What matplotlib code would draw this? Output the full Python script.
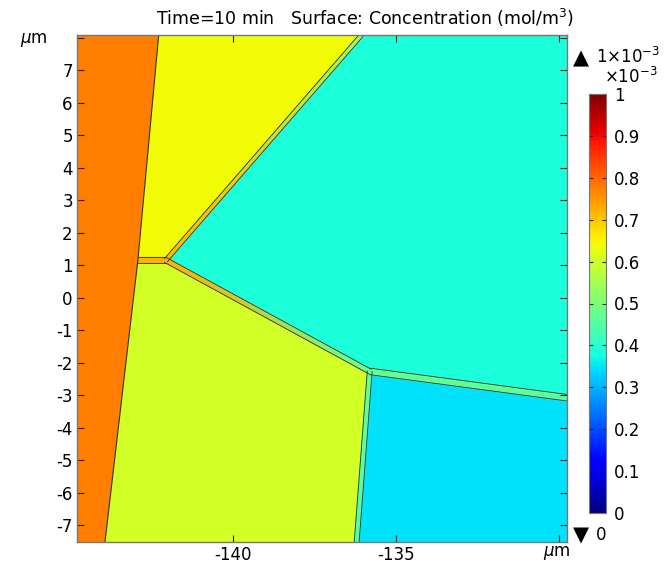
import numpy as np
import matplotlib
matplotlib.use("Agg")
import matplotlib.pyplot as plt
from matplotlib.colors import Normalize
from matplotlib.cm import ScalarMappable

plt.rcParams['font.family'] = 'DejaVu Sans'
plt.rcParams['mathtext.default'] = 'regular'

# domain (um)
xmin, xmax = -144.8, -129.75
ymin, ymax = -7.52, 8.08

# key points of the grain structure (um)
A = (-142.29, ymax)      # left boundary, top
M = (-142.93, 1.15)      # left boundary at junction
D = (-143.94, ymin)      # left boundary, bottom
J = (-142.07, 1.15)      # triple junction
T = (-136.06, ymax)      # upper boundary meets top edge
K = (-135.81, -2.27)     # lower triple junction
R = (xmax, -3.08)        # boundary meets right edge
B = (-136.21, ymin)      # boundary meets bottom edge

# grain concentrations (x1e-3 mol/m^3)
grain_names = ['left', 'top', 'lower_left', 'right', 'lower_right']
grain_vals = [0.775, 0.642, 0.605, 0.385, 0.345]
grain_polys = [
    [(xmin, ymax), A, M, D, (xmin, ymin)],
    [A, T, J, M],
    [M, J, K, B, D],
    [T, (xmax, ymax), R, K, J],
    [K, R, (xmax, ymin), B],
]

# grain boundary bands: start, end, width (um), value at start, value at end
band_start = [M, J, J, K, K]
band_end = [J, T, K, R, B]
band_width = [0.18, 0.13, 0.16, 0.2, 0.15]
band_v0 = [0.72, 0.71, 0.72, 0.47, 0.47]
band_v1 = [0.72, 0.54, 0.48, 0.46, 0.45]

xticks = [-140, -135, -130]
xlabels = ['-140', '-135', '']
yticks = list(range(-7, 9))
ylabels = [str(t) for t in range(-7, 8)] + ['']

cmap = plt.get_cmap('jet')
norm = Normalize(0, 1)
fs = 12

fig = plt.figure(figsize=(6.71, 5.65), dpi=100)
ax = fig.add_axes([77 / 671, 1 - 542 / 565, 490 / 671, 507 / 565])

for poly, v in zip(grain_polys, grain_vals):
    xs, ys = zip(*poly)
    ax.fill(xs, ys, color=cmap(norm(v)), lw=0)

# left boundary line
ax.plot([A[0], M[0], D[0]], [A[1], M[1], D[1]], color='#303030', lw=0.8)

for p0, p1, w, v0, v1 in zip(band_start, band_end, band_width, band_v0, band_v1):
    p0 = np.array(p0); p1 = np.array(p1)
    d = (p1 - p0) / np.hypot(*(p1 - p0))
    n = np.array([-d[1], d[0]]) * w / 2
    pts = np.array([p0 + n, p0 - n, p1 - n, p1 + n])
    ax.tripcolor(pts[:, 0], pts[:, 1], [[0, 1, 2], [0, 2, 3]],
                 [v0, v0, v1, v1], shading='gouraud', cmap=cmap, norm=norm)
    for s in (1, -1):
        ax.plot([p0[0] + s * n[0], p1[0] + s * n[0]],
                [p0[1] + s * n[1], p1[1] + s * n[1]], color='#303030', lw=0.6)

ax.set_xlim(xmin, xmax)
ax.set_ylim(ymin, ymax)
ax.set_xticks(xticks)
ax.set_xticklabels(xlabels)
ax.set_yticks(yticks)
ax.set_yticklabels(ylabels)
ax.tick_params(direction='in', length=5, width=0.8, top=True, right=True,
               labelsize=fs, pad=3, color='#202020')
for sp in ax.spines.values():
    sp.set_color('#777777')
    sp.set_linewidth(1.0)

fig.text(48 / 671, 1 - 40 / 565, r'$\mathit{\mu}$m', fontsize=fs, ha='right', va='center')
fig.text(557 / 671, 1 - 553 / 565, r'$\mathit{\mu}$m', fontsize=fs, ha='center', va='center')
fig.text(365 / 671, 1 - 18 / 565,
         'Time=10 min   Surface: Concentration (mol/m$^3$)',
         fontsize=12.5, ha='center', va='center')

# colorbar
cax = fig.add_axes([589 / 671, 1 - 513 / 565, 17 / 671, 419 / 565])
cb = fig.colorbar(ScalarMappable(norm=norm, cmap=cmap), cax=cax)
cb.set_ticks(np.arange(0, 1.01, 0.1))
cb.set_ticklabels(['0'] + ['%.1f' % t for t in np.arange(0.1, 0.95, 0.1)] + ['1'])
cax.tick_params(direction='in', length=3, width=0.8, left=True, right=True,
                labelsize=fs, pad=6, color='#202020')
cb.outline.set_edgecolor('#777777')
cb.outline.set_linewidth(0.8)

fig.text(604 / 671, 1 - 77 / 565, r'$\times10^{-3}$', fontsize=fs, ha='left', va='center')
fig.text(581 / 671, 1 - 58 / 565, '\u25b2', fontsize=15, ha='center', va='center')
fig.text(596 / 671, 1 - 57 / 565, r'$1{\times}10^{-3}$', fontsize=fs, ha='left', va='center')
fig.text(581 / 671, 1 - 535 / 565, '\u25bc', fontsize=15, ha='center', va='center')
fig.text(596 / 671, 1 - 535 / 565, '0', fontsize=fs, ha='left', va='center')

fig.savefig('out.png', dpi=100)
